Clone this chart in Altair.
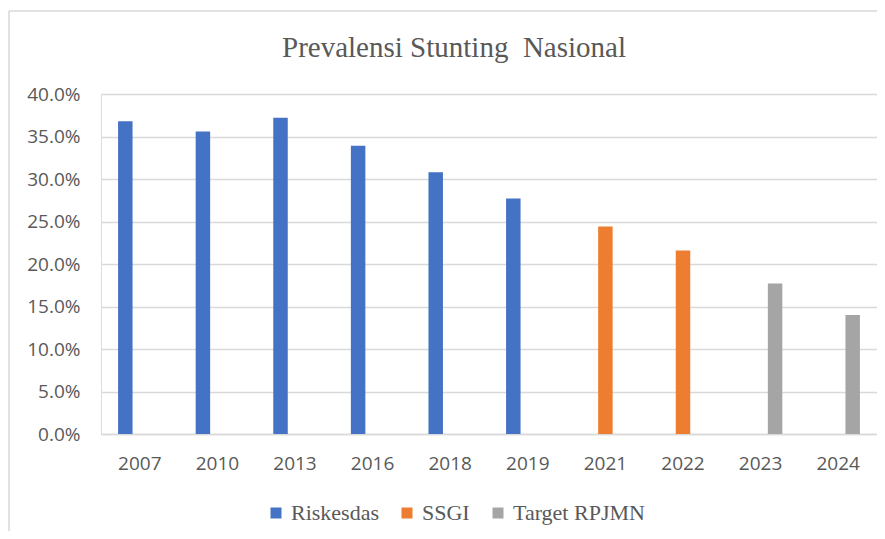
import altair as alt
import pandas as pd

title_text = "Prevalensi Stunting \u00a0Nasional"
years = ["2007", "2010", "2013", "2016", "2018", "2019", "2021", "2022", "2023", "2024"]
values_pct = [36.8, 35.6, 37.2, 33.9, 30.8, 27.7, 24.4, 21.6, 17.7, 14.0]
series = ["Riskesdas", "Riskesdas", "Riskesdas", "Riskesdas", "Riskesdas", "Riskesdas",
          "SSGI", "SSGI", "Target RPJMN", "Target RPJMN"]
series_order = ["Riskesdas", "SSGI", "Target RPJMN"]
series_colors = ["#4472C4", "#ED7D31", "#A5A5A5"]
y_ticks = [0.0, 0.05, 0.10, 0.15, 0.20, 0.25, 0.30, 0.35, 0.40]

df = pd.DataFrame({
    "Tahun": years,
    "Nilai": [v / 100 for v in values_pct],
    "Seri": series,
})
title_df = pd.DataFrame({"judul": [title_text]})

GREY_TEXT = "#595959"
GRID = "#D9D9D9"

bars = alt.Chart(df).mark_bar().encode(
    x=alt.X("Tahun:N", sort=years, title=None,
            scale=alt.Scale(paddingInner=0.44, paddingOuter=0.22),
            axis=alt.Axis(labelAngle=0, labelFont="Open Sans", labelFontSize=19,
                          labelColor=GREY_TEXT, labelPadding=20, ticks=False,
                          domainColor=GRID, domainWidth=1.5, grid=False)),
    xOffset=alt.XOffset("Seri:N", sort=series_order,
                        scale=alt.Scale(domain=series_order, paddingInner=0, paddingOuter=0)),
    y=alt.Y("Nilai:Q", title=None,
            scale=alt.Scale(domain=[0, 0.4], nice=False),
            axis=alt.Axis(format=".1%", values=y_ticks, labelFont="Open Sans",
                          labelFontSize=19, labelColor=GREY_TEXT, labelPadding=21,
                          ticks=False, domain=False, gridColor=GRID, gridWidth=1.5)),
    color=alt.Color("Seri:N", sort=series_order,
                    scale=alt.Scale(domain=series_order, range=series_colors),
                    legend=alt.Legend(title=None, orient="none", direction="horizontal",
                                      legendX=164, legendY=408, padding=0,
                                      symbolType="square", symbolSize=121,
                                      symbolStrokeWidth=0, labelOffset=4,
                                      columnPadding=17,
                                      labelFont="Liberation Serif", labelFontSize=22,
                                      labelColor=GREY_TEXT)),
)

title_mark = alt.Chart(title_df).mark_text(
    font="Liberation Serif", fontSize=29, color=GREY_TEXT,
    align="center", baseline="alphabetic"
).encode(text="judul:N", x=alt.value(353), y=alt.value(-37))

border_top = alt.Chart(title_df).mark_rule(color=GRID, strokeWidth=1.5).encode(
    x=alt.value(-92), x2=alt.value(900), y=alt.value(-83)
)
border_left = alt.Chart(title_df).mark_rule(color=GRID, strokeWidth=1.5).encode(
    x=alt.value(-92), y=alt.value(-83), y2=alt.value(600)
)

chart = alt.layer(border_top, border_left, bars, title_mark).properties(
    width=776,
    height=340,
    autosize=alt.AutoSizeParams(type="none"),
    padding={"left": 93, "top": 86, "right": 0, "bottom": 97},
).configure_view(stroke=None).configure(background="white")

chart.save("out.html", embed_options={"renderer": "svg", "actions": False})
